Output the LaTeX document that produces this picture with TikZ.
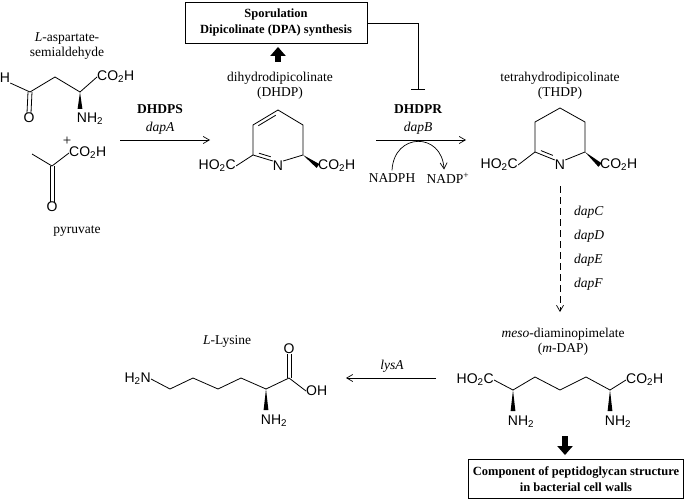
\documentclass[tikz,border=0pt]{standalone}
\usepackage{fontspec}
\setmainfont{Liberation Serif}
\newfontfamily\chemfont{Liberation Sans}
\usetikzlibrary{arrows.meta,calc}

% Wedge bond macro
\newcommand{\wedgebond}[2]{\fill let \p1=#1, \p2=#2, \n1={atan2(\y2-\y1,\x2-\x1)+90} in
    (\p1) -- ($(\p2)+(\n1:2.4pt)$) -- ($(\p2)+(\n1+180:2.4pt)$) -- cycle;}

\begin{document}
\begin{tikzpicture}[
    x=1pt, y=-1pt,
    % Define styles for the different kinds of text and lines
    lbl/.style={font=\fontsize{13.5}{15}\selectfont, align=center, inner sep=0pt},
    atom/.style={font=\chemfont\fontsize{14}{15}\selectfont, inner sep=0pt},
    enz/.style={font=\bfseries\fontsize{13.5}{15}\selectfont, inner sep=0pt},
    gene/.style={font=\itshape\fontsize{13.5}{15}\selectfont, inner sep=0pt},
    bond/.style={line width=0.8pt},
    box/.style={draw, line width=0.9pt, align=center, font=\bfseries\fontsize{12.5}{16}\selectfont, inner xsep=4pt, inner ysep=2pt},
    rxn/.style={-{Straight Barb[angle=60:7pt]}, line width=0.7pt},
    fat/.style={line width=6pt, -{Triangle[width=15pt,length=9pt]}}
]
    \useasboundingbox (0,0) rectangle (685,500);

    % L-aspartate-semialdehyde
    \node[lbl] (asaname) at (67,46) {\textit{L}-aspartate-\\semialdehyde};
    \node[atom] (asaH) at (5,78) {H};
    \coordinate (asa1) at (30,92);
    \coordinate (asa2) at (55,77);
    \coordinate (asa3) at (80,92);
    \node[atom] (asaO) at (29,118) {O};
    \node[atom, anchor=west] (asaCO) at (97,77) {CO\textsubscript{2}H};
    \node[atom] (asaN) at (90,119) {NH\textsubscript{2}};
    \draw[bond] (asaH.south east) -- (asa1) -- (asa2) -- (asa3) -- (asaCO.west);
    \draw[bond] ($(asa1)+(-2,0)$) -- ($(asaO.north)+(-2,0)$);
    \draw[bond] ($(asa1)+(2,0)$) -- ($(asaO.north)+(2,0)$);
    \wedgebond{(asa3)}{(80,109)}
    \node[lbl, font=\fontsize{15}{15}\selectfont] (plus) at (67,141) {+};

    % pyruvate
    \coordinate (pyr1) at (32,154);
    \coordinate (pyr2) at (52,166);
    \node[atom, anchor=west] (pyrCO) at (69,153) {CO\textsubscript{2}H};
    \node[atom] (pyrO) at (52,207) {O};
    \draw[bond] (pyr1) -- (pyr2) -- (pyrCO.west);
    \draw[bond] ($(pyr2)+(-2,0)$) -- ($(pyrO.north)+(-2,0)$);
    \draw[bond] ($(pyr2)+(2,0)$) -- ($(pyrO.north)+(2,0)$);
    \node[lbl] (pyrname) at (77,231) {pyruvate};

    % DHDPS step
    \coordinate (s1a) at (120,140);
    \coordinate (s1b) at (210,140);
    \draw[rxn] (s1a) -- (s1b);
    \node[enz] (dhdps) at (160,109) {DHDPS};
    \node[gene] (dapA) at (160,128) {dapA};

    % DHDP
    \node[box, minimum width=182pt, minimum height=41pt] (spor) at (276,23) {Sporulation\\Dipicolinate (DPA) synthesis};
    \node[lbl] (dhdpname) at (280,86) {dihydrodipicolinate\\(DHDP)};
    \draw[fat] (278,62) -- ($(spor.south)+(2,3)$);
    \coordinate (d1) at (278,110);
    \coordinate (d2) at (303,125);
    \coordinate (d3) at (303,155);
    \node[atom] (dN) at (278,166) {N};
    \coordinate (d5) at (253,155);
    \coordinate (d6) at (253,125);
    \node[atom, anchor=east] (dL) at (236,166) {HO\textsubscript{2}C};
    \node[atom, anchor=west] (dR) at (318,166) {CO\textsubscript{2}H};
    \draw[bond] (d1) -- (d2) -- (d3);
    \draw[bond] (dN.north west) -- (d5) -- (d6) -- (d1);
    \draw[bond] (dN.north east) -- (d3);
    \draw[bond] ($(d6)!0.15!(d1)+(1.5,3)$) -- ($(d6)!0.85!(d1)+(1.5,3)$);
    \draw[bond] ($(d5)!0.2!(dN.north west)+(2,-3)$) -- ($(d5)!0.8!(dN.north west)+(2,-3)$);
    \draw[bond] (d5) -- (dL.east);
    \wedgebond{(d3)}{(dR.west)}

    % DHDPR step
    \coordinate (s2a) at (376,140);
    \coordinate (s2b) at (466,140);
    \draw[rxn] (s2a) -- (s2b);
    \node[enz] (dhdpr) at (418,109) {DHDPR};
    \node[gene] (dapB) at (418,128) {dapB};
    \node[lbl] (nadph) at (392,178) {NADPH};
    \node[lbl] (nadp) at (448,178) {NADP\textsuperscript{+}};
    \draw[rxn] ($(nadph.north)+(0,-3)$) .. controls (394,132) and (442,132) .. ($(nadp.north)+(-4,-3)$);
    \draw[line width=0.7pt, -{Bar[width=14pt]}] (spor.east) -| (418,90);

    % THDP
    \node[lbl] (thdpname) at (560,86) {tetrahydrodipicolinate\\(THDP)};
    \coordinate (t1) at (560,108);
    \coordinate (t2) at (585,122);
    \coordinate (t3) at (585,152);
    \node[atom] (tN) at (560,165) {N};
    \coordinate (t5) at (535,152);
    \coordinate (t6) at (535,122);
    \node[atom, anchor=east] (tL) at (518,165) {HO\textsubscript{2}C};
    \node[atom, anchor=west] (tR) at (600,165) {CO\textsubscript{2}H};
    \draw[bond] (t1) -- (t2) -- (t3);
    \draw[bond] (tN.north west) -- (t5) -- (t6) -- (t1);
    \draw[bond] (tN.north east) -- (t3);
    \draw[bond] ($(t5)!0.2!(tN.north west)+(2,-3)$) -- ($(t5)!0.8!(tN.north west)+(2,-3)$);
    \draw[bond] (t5) -- (tL.east);
    \wedgebond{(t3)}{(tR.west)}

    % dapC-F steps
    \coordinate (s3a) at (560,186);
    \coordinate (s3b) at (560,312);
    \draw[rxn, dash pattern=on 7pt off 4pt] (s3a) -- (s3b);
    \foreach \g [count=\i] in {C,D,E,F}
        \node[gene, anchor=west] (dap\g) at (574,188+24*\i) {dap\g};

    % m-DAP
    \node[lbl] (mdapname) at (563,342) {\textit{meso}-diaminopimelate\\(\textit{m}-DAP)};
    \node[atom, anchor=east] (mL) at (494,380) {HO\textsubscript{2}C};
    \coordinate (m1) at (513,390);
    \coordinate (m2) at (535,377);
    \coordinate (m3) at (560,390);
    \coordinate (m4) at (586,377);
    \coordinate (m5) at (610,390);
    \node[atom, anchor=west] (mR) at (626,380) {CO\textsubscript{2}H};
    \draw[bond] (mL.east) -- (m1) -- (m2) -- (m3) -- (m4) -- (m5) -- (mR.west);
    \node[atom] (mN1) at (521,422) {NH\textsubscript{2}};
    \node[atom] (mN2) at (618,422) {NH\textsubscript{2}};
    \wedgebond{(m1)}{(513,411)}
    \wedgebond{(m5)}{(610,411)}
    \node[box, minimum width=213pt, minimum height=39pt] (wall) at (576,479) {Component of peptidoglycan structure\\in bacterial cell walls};
    \draw[fat] (565,436) -- ($(wall.north -| 565,0)+(0,-4)$);

    % lysA step
    \coordinate (s4a) at (436,378);
    \coordinate (s4b) at (346,378);
    \draw[rxn] (s4a) -- (s4b);
    \node[gene] (lysA) at (392,366) {lysA};

    % L-Lysine
    \node[lbl] (lysname) at (227,341) {\textit{L}-Lysine};
    \node[atom, anchor=east] (lN) at (151,379) {H\textsubscript{2}N};
    \coordinate (l1) at (170,389);
    \coordinate (l2) at (193,378);
    \coordinate (l3) at (218,389);
    \coordinate (l4) at (241,378);
    \coordinate (l5) at (266,389);
    \coordinate (l6) at (289,378);
    \node[atom] (lO) at (289,349) {O};
    \node[atom, anchor=west] (lOH) at (306,391) {OH};
    \node[atom] (lN2) at (274,421) {NH\textsubscript{2}};
    \draw[bond] (lN.east) -- (l1) -- (l2) -- (l3) -- (l4) -- (l5) -- (l6) -- (lOH.west);
    \draw[bond] ($(l6)+(-2,0)$) -- ($(lO.south)+(-2,0)$);
    \draw[bond] ($(l6)+(2,0)$) -- ($(lO.south)+(2,0)$);
    \wedgebond{(l5)}{(266,410)}
\end{tikzpicture}
\end{document}
